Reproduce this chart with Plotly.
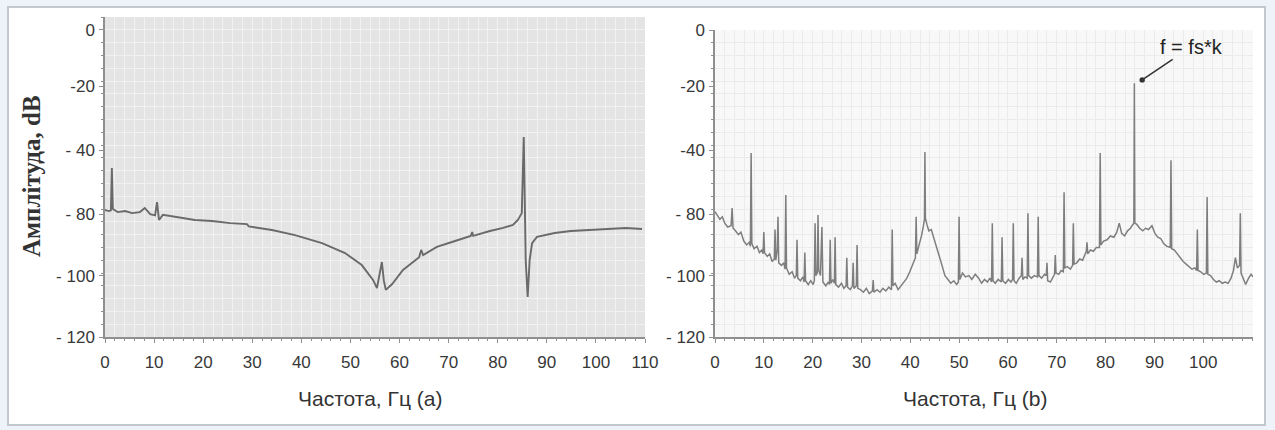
import plotly.graph_objects as go

W, H = 1275, 430

# ---- data -----------------------------------------------------------------
# (a) spectrum: frequency in Hz, amplitude in axis units
freq_a = [0.0, 0.8, 1.2, 1.4, 1.6, 2.6, 4.1, 5.5, 7.1, 8.1, 9.2, 10.2, 10.6, 11.0,
          11.8, 14.3, 18.3, 21.8, 25.5, 28.9, 29.3, 34.0, 38.7, 44.2, 48.9, 52.3,
          54.6, 55.4, 55.9, 56.4, 56.8, 57.2, 58.5, 60.7, 64.0, 64.4, 64.8, 67.6,
          71.3, 74.5, 74.8, 75.0, 78.4, 81.1, 83.1, 84.1, 84.9, 85.3, 85.7, 86.1,
          86.5, 87.0, 88.0, 91.6, 94.9, 101.0, 106.1, 109.4]
amp_a = [-70.4, -70.8, -70.5, -54.0, -70.0, -71.2, -70.8, -71.6, -71.2, -69.6, -72.0,
         -72.5, -67.3, -74.3, -72.3, -73.1, -74.3, -74.7, -75.5, -75.9, -76.8, -78.2,
         -80.2, -83.3, -87.2, -91.9, -97.7, -100.9, -96.0, -90.7, -98.0, -101.6,
         -99.3, -93.8, -88.8, -86.0, -88.0, -84.8, -82.5, -80.5, -79.0, -80.5, -78.6,
         -77.4, -76.2, -74.3, -71.6, -41.9, -90.0, -104.4, -90.0, -83.3, -80.9,
         -79.4, -78.6, -77.8, -77.4, -77.8]

# (b) spectrum: frequency in Hz, amplitude in axis units
freq_b = [
    0.0, 0.5, 1.0, 1.5, 2.0, 2.6, 3.3, 3.5, 3.7, 4.2,
    4.8, 5.3, 5.9, 6.5, 7.0, 7.25, 7.4, 7.55, 8.0, 8.6,
    9.1, 9.6, 9.85, 10.0, 10.15, 10.7, 11.2, 11.7, 12.15, 12.3,
    12.45, 12.75, 12.9, 13.05, 13.6, 14.1, 14.35, 14.5, 14.65, 15.2,
    15.8, 16.3, 16.65, 16.8, 16.95, 17.5, 18.0, 18.25, 18.4, 18.55,
    19.1, 19.6, 20.1, 20.35, 20.5, 20.65, 20.95, 21.1, 21.25, 21.6,
    21.9, 22.1, 22.7, 23.2, 23.45, 23.6, 23.75, 24.1, 24.45, 24.6,
    24.75, 25.3, 25.9, 26.4, 26.85, 27.0, 27.15, 27.7, 28.15, 28.3,
    28.45, 28.95, 29.1, 29.25, 29.8, 30.4, 31.0, 31.6, 32.25, 32.4,
    32.55, 33.2, 33.8, 34.4, 35.0, 35.6, 36.15, 36.3, 36.45, 36.9,
    37.5, 38.1, 38.7, 39.3, 39.9, 40.5, 41.05, 41.2, 41.35, 41.8,
    42.3, 42.7, 42.9, 43.0, 43.1, 43.4, 43.8, 44.3, 44.8, 45.3,
    45.9, 46.5, 47.1, 47.7, 48.3, 48.9, 49.5, 49.85, 50.0, 50.15,
    50.7, 51.3, 52.0, 52.6, 53.3, 54.0, 54.6, 55.2, 55.8, 56.3,
    56.65, 56.8, 56.95, 57.4, 58.0, 58.65, 58.8, 58.95, 59.5, 60.1,
    60.6, 60.95, 61.1, 61.25, 61.7, 62.3, 62.75, 62.9, 63.05, 63.5,
    63.95, 64.1, 64.25, 64.8, 65.4, 66.05, 66.2, 66.35, 66.9, 67.5,
    67.85, 68.0, 68.15, 68.7, 69.2, 69.55, 69.7, 69.85, 70.4, 70.9,
    71.35, 71.5, 71.65, 72.2, 72.8, 73.25, 73.4, 73.55, 74.1, 74.7,
    75.3, 75.9, 76.05, 76.2, 76.35, 76.9, 77.5, 78.1, 78.75, 78.9,
    79.05, 79.6, 80.3, 81.0, 81.7, 82.3, 82.8, 83.3, 83.9, 84.5,
    85.1, 85.6, 85.8, 85.9, 86.0, 86.4, 87.0, 87.6, 88.2, 88.8,
    89.5, 90.1, 90.7, 91.3, 91.9, 92.5, 93.25, 93.4, 93.55, 94.1,
    94.7, 95.3, 95.9, 96.5, 97.1, 97.7, 98.3, 98.65, 98.8, 98.95,
    99.5, 100.1, 100.65, 100.8, 100.95, 101.5, 102.1, 102.7, 103.3, 103.9,
    104.5, 105.1, 105.7, 106.2, 106.6, 107.0, 107.45, 107.6, 107.75, 108.2,
    108.7, 109.3, 109.8, 110.2,
]
amp_b = [
    -71.0, -72.5, -74.0, -73.0, -75.5, -77.0, -76.5, -69.6, -77.5, -78.5,
    -80.0, -79.0, -82.5, -84.0, -83.0, -84.5, -48.1, -83.5, -85.5, -84.5,
    -87.0, -86.0, -87.5, -79.0, -87.0, -88.5, -87.5, -90.5, -89.5, -78.0,
    -90.0, -86.0, -73.0, -91.0, -92.0, -91.0, -93.5, -64.5, -93.0, -95.5,
    -94.5, -97.0, -96.0, -82.0, -97.0, -98.0, -96.5, -98.5, -87.0, -98.0,
    -99.5, -98.0, -99.5, -98.0, -75.5, -96.0, -95.0, -72.3, -94.0, -96.0,
    -77.0, -98.5, -100.0, -98.5, -99.5, -82.0, -99.0, -97.5, -99.0, -81.0,
    -99.5, -100.5, -99.0, -101.0, -100.0, -89.0, -100.5, -101.5, -100.0, -91.0,
    -101.0, -100.0, -84.0, -101.0, -101.5, -102.5, -101.0, -103.0, -102.0, -97.7,
    -102.5, -101.5, -102.5, -101.0, -102.0, -100.5, -101.5, -78.0, -100.0, -99.0,
    -101.5, -100.0, -98.5, -97.0, -94.5, -91.5, -89.0, -73.0, -87.5, -84.0,
    -80.5, -76.5, -74.0, -47.7, -73.5, -76.0, -78.5, -78.0, -81.0, -84.0,
    -88.0, -92.0, -96.0, -97.5, -99.0, -98.0, -99.5, -98.5, -73.0, -97.5,
    -95.0, -96.5, -96.0, -97.5, -95.5, -97.0, -99.0, -97.5, -98.5, -97.0,
    -98.5, -75.5, -98.0, -99.0, -97.5, -98.5, -81.0, -98.0, -99.0, -97.5,
    -98.5, -97.5, -75.5, -98.0, -99.0, -97.0, -96.0, -89.0, -97.5, -96.5,
    -97.0, -71.6, -96.0, -97.0, -96.0, -96.5, -73.0, -96.0, -97.0, -95.5,
    -96.0, -91.0, -98.0, -98.5, -96.5, -95.5, -88.0, -95.0, -95.5, -94.0,
    -94.5, -63.4, -93.0, -92.5, -93.5, -92.0, -75.5, -91.5, -91.0, -89.5,
    -90.0, -87.5, -86.5, -83.0, -87.5, -86.0, -86.5, -85.0, -85.0, -48.1,
    -84.0, -82.5, -82.0, -80.5, -81.0, -79.0, -75.5, -79.5, -80.5, -78.5,
    -77.5, -76.0, -75.5, -20.8, -75.5, -76.0, -77.5, -78.5, -77.5, -78.0,
    -76.5, -79.5, -81.0, -81.5, -83.5, -84.5, -85.0, -50.9, -85.5, -86.0,
    -87.5, -89.0, -90.5, -91.5, -92.5, -93.5, -93.0, -94.0, -78.0, -94.0,
    -94.5, -95.5, -95.0, -65.3, -95.5, -96.0, -97.5, -98.5, -98.0, -99.0,
    -98.5, -99.0, -97.0, -94.0, -89.0, -93.0, -92.0, -71.6, -95.0, -97.5,
    -99.5, -97.0, -95.5, -96.5,
]

x_ticks_a = [0, 10, 20, 30, 40, 50, 60, 70, 80, 90, 100, 110]
x_ticks_b = [0, 10, 20, 30, 40, 50, 60, 70, 80, 90, 100]
amp_tick_pos = [0, -22, -47, -72, -96, -120]
amp_tick_text_a = ["0", "-20", "- 40", "- 80", "- 100", "- 120"]
amp_tick_text_b = ["0", "-20", "-40", "- 80", "- 100", "- 120"]

x_title_a = "Частота, Гц (a)"
x_title_b = "Частота, Гц (b)"
y_title = "Амплітуда, dB"
peak_label = "f = fs*k"

# ---- layout helpers (pixel -> paper fractions) ------------------------------
def px_x(p):
    return p / W


def px_y(p):
    return (H - p) / H


SANS = "Liberation Sans, Arial, sans-serif"
TICK_FONT = dict(family=SANS, size=17, color="#383838")
AXIS_GRAY = "#8f8f8f"

fig = go.Figure()

fig.add_trace(go.Scatter(x=freq_a, y=amp_a, mode="lines", xaxis="x", yaxis="y",
                         line=dict(color="#6a6a6a", width=1.9), showlegend=False,
                         hoverinfo="skip"))
fig.add_trace(go.Scatter(x=freq_b, y=amp_b, mode="lines", xaxis="x2", yaxis="y2",
                         line=dict(color="#7e7e7e", width=1.5), showlegend=False,
                         hoverinfo="skip"))


def x_axis(domain, rng, ticks, grid, anchor):
    return dict(domain=domain, range=rng, anchor=anchor, automargin=False,
                tickmode="array", tickvals=ticks, ticktext=[str(t) for t in ticks],
                tickfont=TICK_FONT, showgrid=False, zeroline=False, showline=True,
                linecolor=AXIS_GRAY, linewidth=1.5, ticks="outside", ticklen=4,
                tickcolor=AXIS_GRAY, ticklabelstandoff=5, fixedrange=True,
                minor=dict(dtick=2, tick0=0, showgrid=True, gridcolor=grid, gridwidth=1,
                           ticks="outside", ticklen=2, tickcolor=AXIS_GRAY))


def y_axis(domain, rng, texts, grid, anchor):
    return dict(domain=domain, range=rng, anchor=anchor, automargin=False,
                tickmode="array", tickvals=amp_tick_pos, ticktext=texts,
                tickfont=TICK_FONT, showgrid=False, zeroline=False, showline=True,
                linecolor=AXIS_GRAY, linewidth=1.5, ticks="outside", ticklen=4,
                tickcolor=AXIS_GRAY, ticklabelstandoff=1, fixedrange=True,
                minor=dict(dtick=5, tick0=0, showgrid=True, gridcolor=grid, gridwidth=1,
                           ticks="outside", ticklen=2, tickcolor=AXIS_GRAY))


dom_xa = [px_x(105), px_x(645)]
dom_ya = [px_y(337), px_y(17)]
dom_xb = [px_x(715), px_x(1253)]
dom_yb = [px_y(337), px_y(30)]

fig.update_layout(
    width=W, height=H, autosize=False,
    margin=dict(l=0, r=0, t=0, b=0, pad=0),
    paper_bgcolor="#edf3f9", plot_bgcolor="rgba(0,0,0,0)",
    xaxis=x_axis(dom_xa, [0, 110], x_ticks_a, "#f1f1f1", "y"),
    yaxis=y_axis(dom_ya, [-120, 5], amp_tick_text_a, "#f1f1f1", "x"),
    xaxis2=x_axis(dom_xb, [0, 110.2], x_ticks_b, "#ebebeb", "y2"),
    yaxis2=y_axis(dom_yb, [-120, 0], amp_tick_text_b, "#ebebeb", "x2"),
    shapes=[
        # white card with thin border
        dict(type="rect", xref="paper", yref="paper", x0=px_x(8), x1=px_x(1265),
             y0=px_y(425), y1=px_y(7), line=dict(color="#c3c8ce", width=2),
             fillcolor="#ffffff", layer="below"),
        # panel backgrounds
        dict(type="rect", xref="x domain", yref="y domain", x0=0, x1=1, y0=0, y1=1,
             line=dict(width=0), fillcolor="#e4e4e4", layer="below"),
        dict(type="rect", xref="x2 domain", yref="y2 domain", x0=0, x1=1, y0=0, y1=1,
             line=dict(width=0), fillcolor="#f8f8f8", layer="below"),
    ],
    annotations=[
        dict(text=x_title_a, xref="paper", yref="paper", x=px_x(370), y=px_y(398),
             showarrow=False, xanchor="center", yanchor="middle",
             font=dict(family=SANS, size=21, color="#333333")),
        dict(text=x_title_b, xref="paper", yref="paper", x=px_x(975), y=px_y(398),
             showarrow=False, xanchor="center", yanchor="middle",
             font=dict(family=SANS, size=21, color="#333333")),
        dict(text=y_title, xref="paper", yref="paper", x=px_x(31), y=px_y(176),
             showarrow=False, textangle=-90, xanchor="center", yanchor="middle",
             font=dict(family="Liberation Serif, Times New Roman, serif", size=25,
                       color="#333333", weight="bold")),
        dict(text=peak_label, xref="x2", yref="y2", x=87.5, y=-19.5,
             ax=49, ay=-33, axref="pixel", ayref="pixel",
             showarrow=True, arrowhead=6, arrowsize=0.9, arrowwidth=1.5,
             arrowcolor="#333333",
             font=dict(family=SANS, size=20, color="#222222")),
    ],
)

fig.write_html("out.html")
